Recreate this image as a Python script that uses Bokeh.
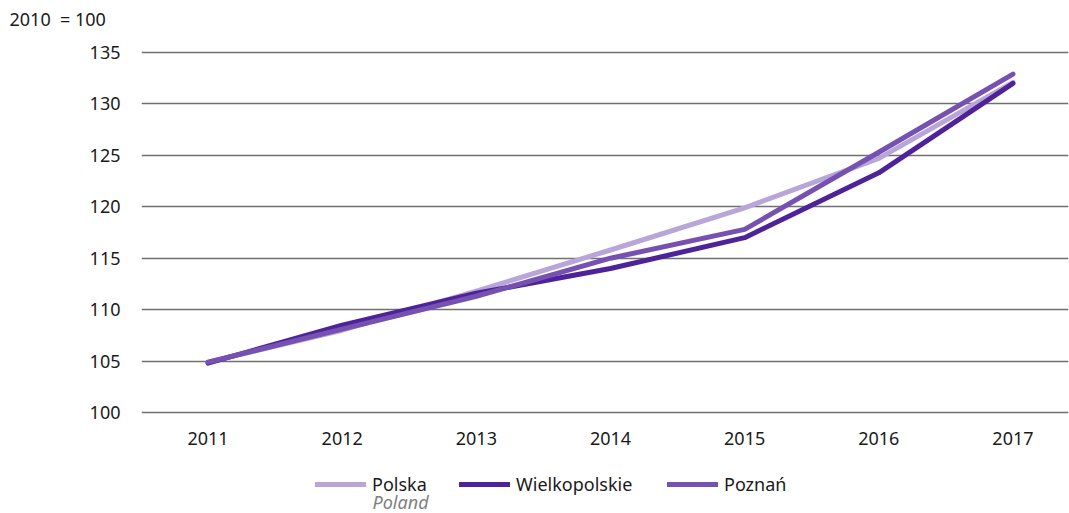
from bokeh.plotting import figure
from bokeh.layouts import column
from bokeh.models import Range1d, FixedTicker, Legend, LegendItem, Label
from bokeh.embed import file_html
from bokeh.resources import INLINE

years = [2011, 2012, 2013, 2014, 2015, 2016, 2017]
polska = [104.9, 108.0, 111.8, 115.8, 119.9, 124.7, 132.1]
wielkopolskie = [104.8, 108.5, 111.6, 114.0, 117.0, 123.3, 132.0]
poznan = [104.9, 108.1, 111.3, 115.0, 117.8, 125.3, 132.9]
y_ticks = [100, 105, 110, 115, 120, 125, 130, 135]

series_names = ["Polska", "Wielkopolskie", "Poznań"]
series_colors = ["#b9a6d8", "#4e2399", "#7651b2"]

FONT = "Noto Sans"
W = 1069
H_HEAD, H_MAIN, H_LEG = 40, 422, 51
FRAME_LEFT = 141


def bare(fig):
    fig.outline_line_color = None
    fig.xaxis.visible = False
    fig.yaxis.visible = False
    fig.grid.visible = False
    fig.background_fill_color = "white"
    fig.border_fill_color = "white"


# header with unit note (title, offset to the left edge)
head = figure(width=W, height=H_HEAD, output_backend="svg", toolbar_location=None,
              x_range=Range1d(0, 1), y_range=Range1d(0, 1),
              min_border_left=FRAME_LEFT, min_border_right=1, min_border_top=0, min_border_bottom=0)
bare(head)
head.title.text = "2010\u00a0 = 100"
head.title.align = "left"
head.title.offset = 9 - FRAME_LEFT
head.title.vertical_align = "middle"
head.title.standoff = 11
head.title.text_font = FONT
head.title.text_font_size = "18px"
head.title.text_font_style = "normal"
head.title.text_color = "#1a1a1a"

# main chart
p = figure(width=W, height=H_MAIN, output_backend="svg", toolbar_location=None,
           x_range=Range1d(2010.504, 2017.414), y_range=Range1d(99.806, 135.194),
           min_border_left=FRAME_LEFT, min_border_right=1, min_border_top=10, min_border_bottom=48)
p.outline_line_color = None
p.background_fill_color = "white"
p.border_fill_color = "white"
p.xgrid.grid_line_color = None
p.ygrid.grid_line_color = "#707070"
p.ygrid.grid_line_width = 1.5
p.ygrid.ticker = FixedTicker(ticks=y_ticks)
p.yaxis.ticker = FixedTicker(ticks=y_ticks)
p.xaxis.ticker = FixedTicker(ticks=years)
p.xaxis.major_label_overrides = {y: str(y) for y in years}
for ax in (p.xaxis[0], p.yaxis[0]):
    ax.axis_line_color = None
    ax.major_tick_line_color = None
    ax.minor_tick_line_color = None
    ax.major_tick_in = 0
    ax.major_tick_out = 0
    ax.minor_tick_in = 0
    ax.minor_tick_out = 0
    ax.major_label_text_font = FONT
    ax.major_label_text_font_size = "18px"
    ax.major_label_text_color = "#1a1a1a"
p.yaxis.major_label_standoff = 21
p.xaxis.major_label_standoff = 17

for vals, col in zip([polska, wielkopolskie, poznan], series_colors):
    p.line(years, vals, line_color=col, line_width=5, line_cap="round", line_join="round")

# legend strip
leg = figure(width=W, height=H_LEG, output_backend="svg", toolbar_location=None,
             x_range=Range1d(0, 1), y_range=Range1d(0, 1),
             min_border_left=FRAME_LEFT, min_border_right=1, min_border_top=0, min_border_bottom=0)
bare(leg)
legend_x = [315, 459, 667]
nan = float("nan")
for name, col, lx in zip(series_names, series_colors, legend_x):
    r = leg.line([nan], [nan], line_color=col, line_width=5, line_cap="round")
    lg = Legend(items=[LegendItem(label=name, renderers=[r])], location=(lx - FRAME_LEFT, 17),
                orientation="horizontal", padding=0, margin=0, spacing=0,
                glyph_width=51, glyph_height=20, label_height=20, label_standoff=6,
                border_line_color=None, background_fill_alpha=0,
                label_text_font=FONT, label_text_font_size="18px", label_text_color="#1a1a1a")
    leg.add_layout(lg, "center")
leg.add_layout(Label(x=372 - FRAME_LEFT, y=12, x_units="screen", y_units="screen", text="Poland",
                     text_font=FONT, text_font_size="18px", text_font_style="italic",
                     text_color="#808080", text_baseline="middle"))

layout = column(head, p, leg, spacing=0)
open("out.html", "w").write(file_html(layout, INLINE))
